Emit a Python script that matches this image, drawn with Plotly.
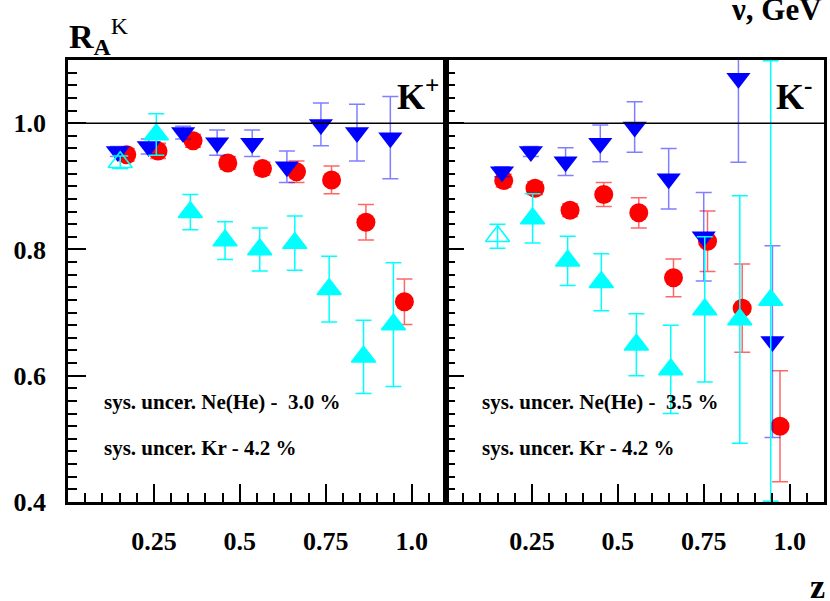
import plotly.graph_objects as go

# ---------------- data ----------------
# K+ panel
kp_red_x = [0.171, 0.262, 0.364, 0.465, 0.566, 0.665, 0.767, 0.867, 0.979]
kp_red_y = [0.950, 0.956, 0.972, 0.937, 0.928, 0.923, 0.910, 0.843, 0.717]
kp_red_err = [0.010, 0.012, 0.010, 0.010, 0.010, 0.017, 0.022, 0.028, 0.036]

kp_blue_x = [0.145, 0.235, 0.335, 0.434, 0.536, 0.637, 0.736, 0.841, 0.938]
kp_blue_y = [0.955, 0.963, 0.985, 0.969, 0.968, 0.931, 0.998, 0.985, 0.977]
kp_blue_err = [0.008, 0.012, 0.010, 0.020, 0.021, 0.025, 0.034, 0.045, 0.065]

kp_cyan_x = [0.152, 0.257, 0.356, 0.457, 0.558, 0.660, 0.760, 0.860, 0.947]
kp_cyan_y = [0.938, 0.982, 0.859, 0.814, 0.800, 0.810, 0.737, 0.630, 0.681]
kp_cyan_err = [0.010, 0.033, 0.028, 0.030, 0.034, 0.043, 0.052, 0.058, 0.098]

# K- panel
km_red_x = [0.168, 0.259, 0.361, 0.459, 0.561, 0.662, 0.761, 0.862, 0.972]
km_red_y = [0.909, 0.897, 0.862, 0.887, 0.858, 0.755, 0.813, 0.707, 0.520]
km_red_err = [0.010, 0.010, 0.010, 0.019, 0.024, 0.030, 0.048, 0.070, 0.088]

km_blue_x = [0.163, 0.247, 0.348, 0.449, 0.549, 0.648, 0.750, 0.851, 0.950]
km_blue_y = [0.923, 0.955, 0.939, 0.968, 0.994, 0.912, 0.820, 1.071, 0.654]
km_blue_err = [0.008, 0.008, 0.022, 0.029, 0.040, 0.048, 0.070, 0.133, 0.152]

km_cyan_x = [0.150, 0.252, 0.354, 0.452, 0.554, 0.654, 0.753, 0.855, 0.945]
km_cyan_y = [0.821, 0.849, 0.782, 0.748, 0.649, 0.610, 0.705, 0.689, 0.720]
km_cyan_err_plus = [0.019, 0.039, 0.039, 0.045, 0.049, 0.070, 0.115, 0.196, 0.379]
km_cyan_err_minus = [0.019, 0.039, 0.039, 0.045, 0.049, 0.070, 0.115, 0.196, 0.319]

y_label_vals = [0.4, 0.6, 0.8, 1.0]
y_label_text = ["0.4", "0.6", "0.8", "1.0"]
y_mid_vals = [0.5, 0.7, 0.9]
x_tickvals = [0.25, 0.5, 0.75, 1.0]
x_ticktext = ["0.25", "0.5", "0.75", "1.0"]

# ---------------- style ----------------
SERIF = "Liberation Serif"
RED, BLUE, CYAN = "#ff0000", "#0000ff", "#00ffff"

fig = go.Figure()


def add_series(x, y, eplus, eminus, color, ecolor, symbols, size, xa, ya, outline):
    fig.add_trace(go.Scatter(
        x=x, y=y, mode="markers", xaxis=xa, yaxis=ya, showlegend=False,
        marker=dict(color=color, size=size, symbol=symbols,
                    line=dict(width=outline, color=color)),
        error_y=dict(type="data", array=eplus, arrayminus=eminus, symmetric=False,
                     color=ecolor, thickness=1.5, width=8),
    ))


panels = [
    ("x", "y", kp_red_x, kp_red_y, kp_red_err, kp_red_err,
     kp_blue_x, kp_blue_y, kp_blue_err,
     kp_cyan_x, kp_cyan_y, kp_cyan_err, kp_cyan_err),
    ("x2", "y2", km_red_x, km_red_y, km_red_err, km_red_err,
     km_blue_x, km_blue_y, km_blue_err,
     km_cyan_x, km_cyan_y, km_cyan_err_plus, km_cyan_err_minus),
]

for (xa, ya, rx, ry, rep, rem, bx, by, be, cx, cy, cep, cem) in panels:
    add_series(rx, ry, rep, rem, RED, "rgba(255,0,0,0.6)", "circle", 19, xa, ya, 0)
    add_series(bx, by, be, be, BLUE, "rgba(0,0,255,0.5)", "triangle-down", 21, xa, ya, 0)
    csym = ["triangle-up-open"] + ["triangle-up"] * (len(cx) - 1)
    add_series(cx, cy, cep, cem, CYAN, CYAN, csym, 21, xa, ya, 1.5)

tickfont = dict(family=SERIF, size=26, color="black", weight="bold")
TK = dict(ticks="inside", ticklen=18, tickwidth=2, tickcolor="black")

xcommon = dict(range=[0, 1.1], showgrid=False, zeroline=False, showline=True,
               linecolor="black", linewidth=2.5, mirror=True,
               tickmode="array", tickvals=x_tickvals, ticktext=x_ticktext,
               ticklabelstandoff=14, tickfont=tickfont,
               minor=dict(ticks="inside", dtick=0.05, tick0=0, ticklen=9,
                          tickwidth=2, tickcolor="black", showgrid=False), **TK)
ycommon = dict(range=[0.4, 1.1], showgrid=False, zeroline=False, showline=True,
               linecolor="black", linewidth=2.5, mirror=True,
               tickmode="array", tickvals=y_label_vals,
               tickfont=tickfont,
               minor=dict(ticks="inside", dtick=0.02, tick0=0.4, ticklen=9,
                          tickwidth=2, tickcolor="black", showgrid=False), **TK)
ymid = dict(range=[0.4, 1.1], showgrid=False, zeroline=False, showline=False,
            tickmode="array", tickvals=y_mid_vals, showticklabels=False, **TK)

fig.update_layout(
    width=830, height=601,
    margin=dict(l=68, r=3, t=60, b=99),
    paper_bgcolor="white", plot_bgcolor="white",
    xaxis=dict(domain=[0, 0.5], anchor="y", **xcommon),
    xaxis2=dict(domain=[0.5, 1.0], anchor="y2", **xcommon),
    yaxis=dict(anchor="x", ticktext=y_label_text, ticklabelstandoff=14, **ycommon),
    yaxis2=dict(anchor="x2", showticklabels=False, **ycommon),
    yaxis3=dict(anchor="x", overlaying="y", side="left", **ymid),
    yaxis4=dict(anchor="x2", overlaying="y2", side="left", **ymid),
)

# horizontal reference line at 1.0 in both panels
for xr, yr in (("x", "y"), ("x2", "y2")):
    fig.add_shape(type="line", xref=f"{xr} domain", yref=yr, x0=0, x1=1, y0=1.0, y1=1.0,
                  line=dict(color="black", width=1.5))

ann_font = dict(family=SERIF, color="black", weight="bold")

# panel labels
fig.add_annotation(xref="x", yref="y", x=1.085, y=1.045, text="K<sup>+</sup>",
                   showarrow=False, xanchor="right", yanchor="middle",
                   font=dict(size=36, **ann_font))
fig.add_annotation(xref="x2", yref="y2", x=1.07, y=1.045, text="K<sup>-</sup>",
                   showarrow=False, xanchor="right", yanchor="middle",
                   font=dict(size=36, **ann_font))

# systematic uncertainty notes
for xr, yr, txt in (("x", "y", "sys. uncer. Ne(He) -  3.0 %"),
                    ("x2", "y2", "sys. uncer. Ne(He) -  3.5 %")):
    fig.add_annotation(xref=xr, yref=yr, x=0.098, y=0.559, text=txt, showarrow=False,
                       xanchor="left", yanchor="middle", font=dict(size=21, **ann_font))
    fig.add_annotation(xref=xr, yref=yr, x=0.098, y=0.486, text="sys. uncer. Kr - 4.2 %",
                       showarrow=False, xanchor="left", yanchor="middle",
                       font=dict(size=21, **ann_font))

# axis titles
fig.add_annotation(xref="paper", yref="paper", x=(67 - 68) / 759, y=(502 - 62) / 442,
                   text="<b>R</b><sub><b>A</b></sub><sup>K</sup>", showarrow=False,
                   xanchor="left", yanchor="bottom",
                   font=dict(family=SERIF, size=34, color="black"))
fig.add_annotation(xref="paper", yref="paper", x=1.0 + 0 / 759, y=(502 + 10) / 442,
                   text="ν, GeV", showarrow=False, xanchor="right", yanchor="top",
                   font=dict(size=31, **ann_font))
fig.add_annotation(xref="paper", yref="paper", x=1.0 + 3 / 759, y=-(566 - 502) / 442,
                   text="z", showarrow=False, xanchor="right", yanchor="top",
                   font=dict(size=34, **ann_font))

fig.write_html("out.html", config={"displayModeBar": False},
               post_script="document.body.style.margin='0';")
